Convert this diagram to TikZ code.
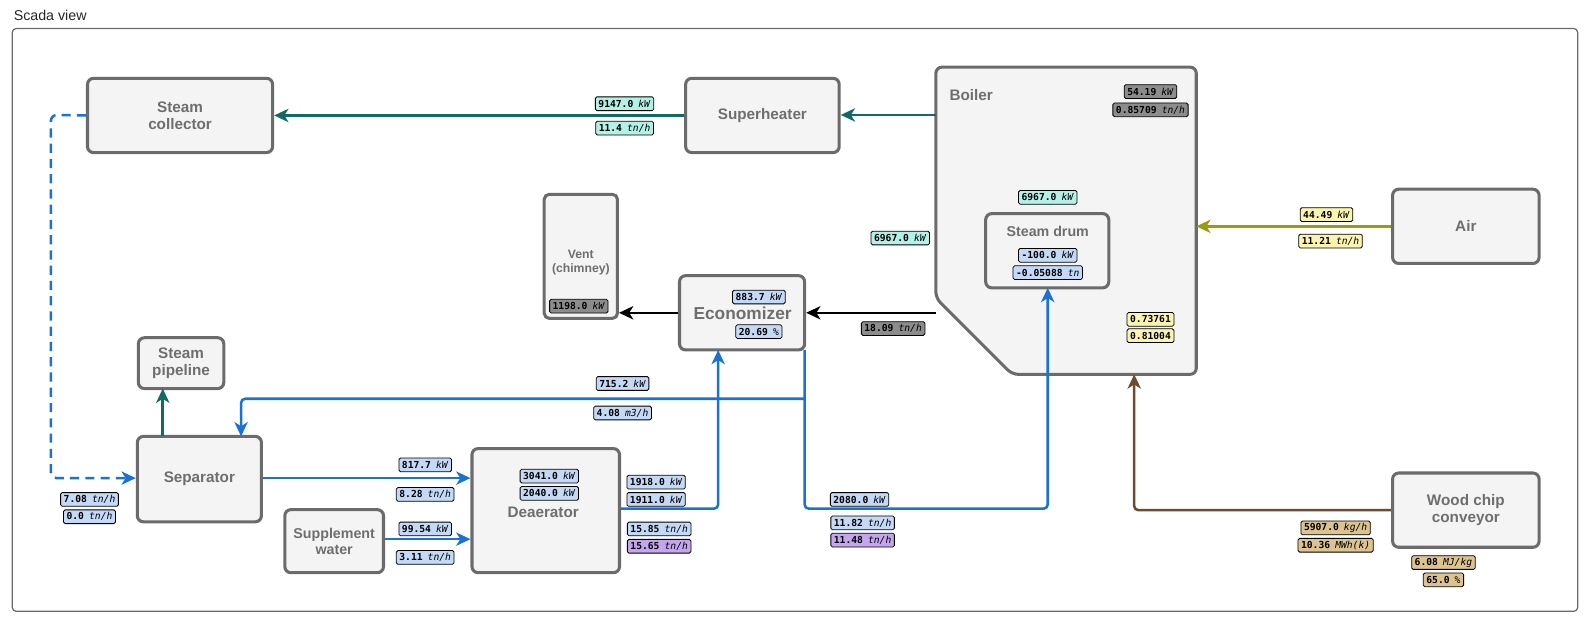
\documentclass[tikz,border=0pt]{standalone}
\usepackage{fontspec}
\setmainfont{Liberation Sans}
\newfontfamily\monof{DejaVu Sans Mono}
\usetikzlibrary{arrows.meta}
\definecolor{bxf}{HTML}{F4F4F4}
\definecolor{bxd}{HTML}{6B6B6B}
\definecolor{txg}{HTML}{6E6E6E}
\definecolor{cteal}{HTML}{106B66}
\definecolor{cblue}{HTML}{1A73D4}
\definecolor{colive}{HTML}{9C9A10}
\definecolor{cbrown}{HTML}{6B4C30}
\definecolor{vb}{HTML}{C4D9F5}
\definecolor{vt}{HTML}{B3F0E6}
\definecolor{vg}{HTML}{8C8C8C}
\definecolor{vy}{HTML}{FBF3B0}
\definecolor{vn}{HTML}{DCC38F}
\definecolor{vp}{HTML}{C5A6EE}
\newcommand{\vv}[2]{\textbf{#1}\hspace{5pt}\textit{#2}}
\tikzset{
 box/.style={draw=bxd, line width=3pt, fill=bxf, rounded corners=6pt, font=\bfseries\fontsize{15}{17}\selectfont, text=txg, align=center},
 val/.style={draw=black, line width=0.8pt, rounded corners=1.5pt, fill=#1, font=\monof\fontsize{9.5}{10}\selectfont, inner xsep=3pt, inner ysep=1.5pt, minimum height=13.5pt},
 fl/.style={line width=2.5pt, draw=#1, -{Stealth[length=14pt,width=13pt,inset=4pt]}, rounded corners=4pt}
}
\begin{document}
\begin{tikzpicture}[x=1pt,y=-1pt]
\useasboundingbox (0,0) rectangle (1567,612.4);
\node[anchor=west, font=\fontsize{14}{16}\selectfont, text=black!85] (title) at (10,15) {Scada view};
\draw[draw=bxd, line width=1.2pt, rounded corners=4pt] (12,28) rectangle (1551,601);
% nodes
\node[box, minimum width=182pt, minimum height=73pt] (coll) at (177,113.5) {Steam\\collector};
\node[box, minimum width=151pt, minimum height=73pt] (sup) at (749.5,113.5) {Superheater};
\draw[draw=bxd, line width=3pt, fill=bxf, rounded corners=6pt] (920,66) -- (1176,66) -- (1176,368) -- (995,368) -- (920,293) -- cycle;
\node[anchor=west, font=\bfseries\fontsize{15}{17}\selectfont, text=txg] (boilerlbl) at (930,93) {Boiler};
\coordinate (boilerL) at (920,113);
\coordinate (boilerB) at (1115,368);
\node[box, minimum width=121pt, minimum height=73pt, font=\bfseries\fontsize{14}{16}\selectfont] (drum) at (1029.5,246.5) {};
\node[font=\bfseries\fontsize{14}{16}\selectfont, text=txg] (drumlbl) at (1030,227) {Steam drum};
\node[box, minimum width=144pt, minimum height=73pt] (air) at (1441,222.5) {Air};
\node[box, minimum width=144pt, minimum height=73pt] (wood) at (1441,501.5) {Wood chip\\conveyor};
\node[box, minimum width=72pt, minimum height=122pt, font=\bfseries\fontsize{12}{14}\selectfont, rounded corners=5pt] (vent) at (571,252) {};
\node[font=\bfseries\fontsize{12}{14}\selectfont, text=txg, align=center] (ventlbl) at (571,258) {Vent\\(chimney)};
\node[box, minimum width=123pt, minimum height=73pt] (eco) at (729.5,307.5) {};
\node[font=\bfseries\fontsize{17}{19}\selectfont, text=txg] (ecolbl) at (730,308) {Economizer};
\node[box, minimum width=84pt, minimum height=50pt] (pipe) at (178,357) {Steam\\pipeline};
\node[box, minimum width=122pt, minimum height=84pt] (sep) at (196,471) {Separator};
\node[box, minimum width=145pt, minimum height=122pt] (dea) at (536.5,502) {};
\node[font=\bfseries\fontsize{15}{17}\selectfont, text=txg] (dealbl) at (534,504) {Deaerator};
\node[box, minimum width=97pt, minimum height=62pt, font=\bfseries\fontsize{14}{16}\selectfont] (supw) at (328.5,532) {Supplement\\water};
\coordinate (c1) at (50,113);
\coordinate (c2) at (50,470);
% connectors
\draw[fl=cteal] (boilerL) -- (sup.east |- boilerL);
\draw[fl=cteal] (sup.west) -- (coll.east);
\draw[fl=cblue, dashed, dash pattern=on 9pt off 6pt, rounded corners=6pt] (coll.west) -- (c1) -- (c2) -- (sep.west |- c2);
\draw[fl=colive] (air.west) -- (1176,222.5);
\draw[fl=cbrown] (wood.west) -| (boilerB);
\draw[fl=black] (920,307.5) -- (eco.east);
\draw[fl=black] (eco.west) -- (vent.east |- eco.west);
\draw[fl=cteal, rounded corners=0pt] (160,429) -- (160,382);
\draw[fl=cblue] (sep.east |- 0,470) -- (dea.west |- 0,470);
\draw[fl=cblue] (supw.east |- 0,530) -- (dea.west |- 0,530);
\draw[fl=cblue] (dea.east |- 0,500) -| (706,344);
\draw[fl=cblue] (791,344) |- (1030,500) -- (1030,283);
\draw[fl=cblue] (791,392) -| (237,429);
% values
\node[val=vg] (b1) at (1131,90) {\vv{54.19}{kW}};
\node[val=vg] (b2) at (1131,108) {\vv{0.85709}{tn/h}};
\node[val=vt] (d0) at (1030,194) {\vv{6967.0}{kW}};
\node[val=vb] (d1) at (1030,251) {\vv{-100.0}{kW}};
\node[val=vb] (d2) at (1030,268) {\vv{-0.05088}{tn}};
\node[val=vt] (t1) at (885,234) {\vv{6967.0}{kW}};
\node[val=vy] (y1) at (1131,314) {\textbf{0.73761}};
\node[val=vy] (y2) at (1131,330) {\textbf{0.81004}};
\node[val=vy] (a1) at (1304,211) {\vv{44.49}{kW}};
\node[val=vy] (a2) at (1308,237) {\vv{11.21}{tn/h}};
\node[val=vn] (w1) at (1313,519) {\vv{5907.0}{kg/h}};
\node[val=vn] (w2) at (1313,536) {\vv{10.36}{MWh(k)}};
\node[val=vn] (w3) at (1419,553) {\vv{6.08}{MJ/kg}};
\node[val=vn] (w4) at (1419,570) {\vv{65.0}{\%}};
\node[val=vg] (v1) at (569,301) {\vv{1198.0}{kW}};
\node[val=vb] (e1) at (746,292) {\vv{883.7}{kW}};
\node[val=vb] (e2) at (746,326) {\vv{20.69}{\%}};
\node[val=vg] (g1) at (878,323) {\vv{18.09}{tn/h}};
\node[val=vt] (s1) at (614,102) {\vv{9147.0}{kW}};
\node[val=vt] (s2) at (614,126) {\vv{11.4}{tn/h}};
\node[val=vb] (p1) at (88,491) {\vv{7.08}{tn/h}};
\node[val=vb] (p2) at (88,508) {\vv{0.0}{tn/h}};
\node[val=vb] (q1) at (540,468) {\vv{3041.0}{kW}};
\node[val=vb] (q2) at (540,485) {\vv{2040.0}{kW}};
\node[val=vb] (r1) at (418,457) {\vv{817.7}{kW}};
\node[val=vb] (r2) at (418,486) {\vv{8.28}{tn/h}};
\node[val=vb] (r3) at (418,520) {\vv{99.54}{kW}};
\node[val=vb] (r4) at (418,548) {\vv{3.11}{tn/h}};
\node[val=vb] (o1) at (645,474) {\vv{1918.0}{kW}};
\node[val=vb] (o2) at (645,491) {\vv{1911.0}{kW}};
\node[val=vb] (o3) at (648,520) {\vv{15.85}{tn/h}};
\node[val=vp] (o4) at (648,537) {\vv{15.65}{tn/h}};
\node[val=vb] (m1) at (845,491) {\vv{2080.0}{kW}};
\node[val=vb] (m2) at (848,514) {\vv{11.82}{tn/h}};
\node[val=vp] (m3) at (848,531) {\vv{11.48}{tn/h}};
\node[val=vb] (h1) at (612,377) {\vv{715.2}{kW}};
\node[val=vb] (h2) at (612,406) {\vv{4.08}{m3/h}};
\end{tikzpicture}
\end{document}
